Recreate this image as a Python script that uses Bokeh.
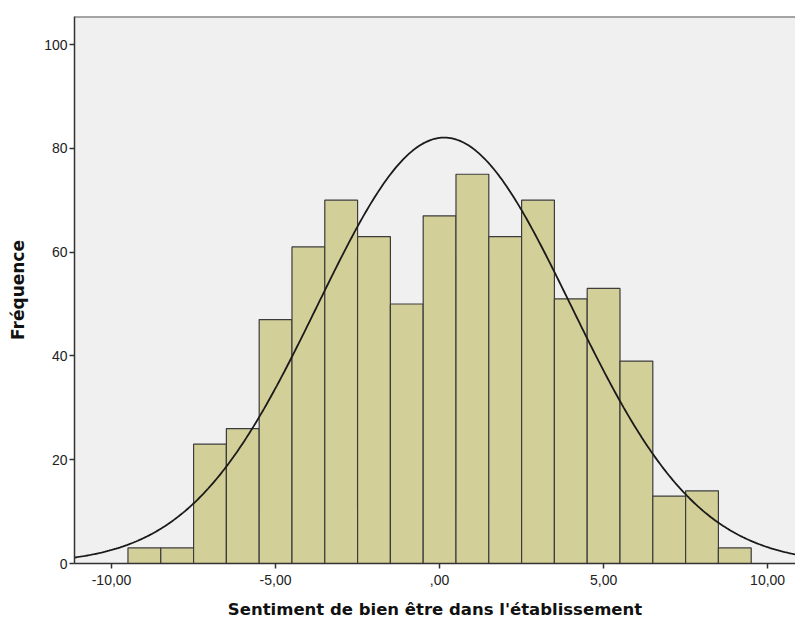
import numpy as np
from bokeh.plotting import figure
from bokeh.models import FixedTicker, Span, Range1d
from bokeh.embed import file_html
from bokeh.resources import INLINE

# Histogram bins (centres, width 1) and frequencies
bin_centers = [-9, -8, -7, -6, -5, -4, -3, -2, -1, 0, 1, 2, 3, 4, 5, 6, 7, 8, 9]
frequencies = [3, 3, 23, 26, 47, 61, 70, 63, 50, 67, 75, 63, 70, 51, 53, 39, 13, 14, 3]
bin_width = 1.0

# Normal curve parameters
mean_val = 0.14
sd_val = 3.86
n_total = sum(frequencies)

x_ticks = [-10, -5, 0, 5, 10]
x_tick_labels = ["-10,00", "-5,00", ",00", "5,00", "10,00"]
y_ticks = [0, 20, 40, 60, 80, 100]

p = figure(width=795, height=621, output_backend="svg", toolbar_location=None,
           x_range=Range1d(-11.13, 10.85), y_range=Range1d(0, 105.4),
           min_border_left=74, min_border_right=0, min_border_top=16, min_border_bottom=58)

p.background_fill_color = "#f0f0f0"
p.border_fill_color = "white"
p.outline_line_color = None
p.grid.visible = False

lefts = [c - bin_width / 2 for c in bin_centers]
rights = [c + bin_width / 2 for c in bin_centers]
p.quad(left=lefts, right=rights, bottom=0, top=frequencies,
       fill_color="#d3cf98", line_color="#3c3c3c", line_width=1.2)

xs = np.linspace(-11.13, 10.85, 400)
ys = n_total * bin_width / (sd_val * np.sqrt(2 * np.pi)) * np.exp(-0.5 * ((xs - mean_val) / sd_val) ** 2)
p.line(xs, ys, line_color="#1a1a1a", line_width=1.8)

p.add_layout(Span(location=105.4, dimension="width", line_color="#555555", line_width=2))

for ax in (p.xaxis, p.yaxis):
    ax.axis_line_color = "#333333"
    ax.axis_line_width = 1.5
    ax.major_tick_line_color = "#333333"
    ax.major_tick_line_width = 1.5
    ax.major_tick_out = 5
    ax.major_tick_in = 0
    ax.minor_tick_line_color = None
    ax.major_label_text_font = "Liberation Sans"
    ax.major_label_text_font_size = "14px"
    ax.major_label_text_color = "#222222"

p.xaxis.ticker = FixedTicker(ticks=x_ticks)
p.xaxis.major_label_overrides = {t: l for t, l in zip(x_ticks, x_tick_labels)}
p.yaxis.ticker = FixedTicker(ticks=y_ticks)
p.xaxis.major_label_standoff = 6
p.yaxis.major_label_standoff = 2

p.xaxis.axis_label = "Sentiment de bien être dans l'établissement"
p.xaxis.axis_label_text_font = "DejaVu Sans"
p.xaxis.axis_label_text_font_style = "bold"
p.xaxis.axis_label_text_font_size = "16.5px"
p.xaxis.axis_label_text_color = "#111111"
p.xaxis.axis_label_standoff = 12

p.yaxis.axis_label = "Fréquence"
p.yaxis.axis_label_text_font = "DejaVu Sans"
p.yaxis.axis_label_text_font_style = "bold"
p.yaxis.axis_label_text_font_size = "17px"
p.yaxis.axis_label_text_color = "#111111"
p.yaxis.axis_label_standoff = 13

open("out.html", "w").write(file_html(p, INLINE))
